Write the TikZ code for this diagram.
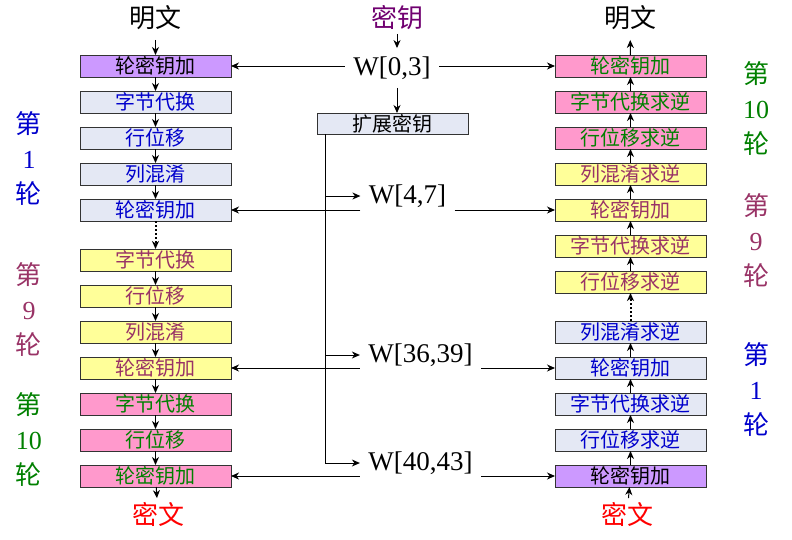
\documentclass[tikz,border=0pt]{standalone}
\usepackage{fontspec}
\setmainfont{Liberation Serif}
\newfontfamily\cjk{Noto Sans CJK SC}
\usetikzlibrary{positioning, arrows.meta}
\definecolor{boxPurple}{RGB}{204,153,255}
\definecolor{boxGray}{RGB}{228,232,244}
\definecolor{boxYellow}{RGB}{255,255,153}
\definecolor{boxPink}{RGB}{255,153,204}
\definecolor{txtBlue}{RGB}{0,0,204}
\definecolor{txtMaroon}{RGB}{153,51,102}
\definecolor{txtGreen}{RGB}{0,128,0}
\definecolor{keyPurple}{RGB}{112,0,112}
\tikzset{
->, % every connector is directed
>={Stealth[length=8pt, width=7pt, inset=2.5pt]}, % bold arrow heads
node distance=14pt, % gap between two stacked steps
blk/.style={draw=black!80, minimum width=151pt, minimum height=22pt, inner sep=0pt, outer sep=0pt, font=\cjk\fontsize{20}{20}\selectfont}, % one step of a round
purplebox/.style={blk, fill=boxPurple, text=black},
graybox/.style={blk, fill=boxGray, text=txtBlue},
yellowbox/.style={blk, fill=boxYellow, text=txtMaroon},
pinkbox/.style={blk, fill=boxPink, text=txtGreen},
headtext/.style={font=\cjk\fontsize{26}{26}\selectfont},
wlabel/.style={font=\fontsize{27}{27}\selectfont, inner sep=8pt}, % key words
roundlbl/.style={align=center, font=\fontsize{26}{35}\selectfont}, % round numbers at the sides
dots/.style={line width=2pt, dash pattern=on 2pt off 2pt}, % the skipped rounds
}

\begin{document}
\begin{tikzpicture}[x=1pt, y=-1pt, line width=1pt]
        \useasboundingbox (0,0) rectangle (792,539);

        % encryption
        \node[headtext] (ptL) at (155.5,18) {明文};
        \node[purplebox] (l1) at (155.5,66) {轮密钥加};
        \node[graybox, below=of l1] (l2) {字节代换};
        \node[graybox, below=of l2] (l3) {行位移};
        \node[graybox, below=of l3] (l4) {列混淆};
        \node[graybox, below=of l4] (l5) {轮密钥加};
        \node[yellowbox, below=28pt of l5] (l6) {字节代换};
        \node[yellowbox, below=of l6] (l7) {行位移};
        \node[yellowbox, below=of l7] (l8) {列混淆};
        \node[yellowbox, below=of l8] (l9) {轮密钥加};
        \node[pinkbox, below=of l9] (l10) {字节代换};
        \node[pinkbox, below=of l10] (l11) {行位移};
        \node[pinkbox, below=of l11] (l12) {轮密钥加};
        \node[headtext, text=red] (ctL) at (158,514) {密文};

        % decryption
        \node[headtext] (ptR) at (630,18) {明文};
        \node[pinkbox] (r1) at (630.5,66) {轮密钥加};
        \node[pinkbox, below=of r1] (r2) {字节代换求逆};
        \node[pinkbox, below=of r2] (r3) {行位移求逆};
        \node[yellowbox, below=of r3] (r4) {列混淆求逆};
        \node[yellowbox, below=of r4] (r5) {轮密钥加};
        \node[yellowbox, below=of r5] (r6) {字节代换求逆};
        \node[yellowbox, below=of r6] (r7) {行位移求逆};
        \node[graybox, below=28pt of r7] (r8) {列混淆求逆};
        \node[graybox, below=of r8] (r9) {轮密钥加};
        \node[graybox, below=of r9] (r10) {字节代换求逆};
        \node[graybox, below=of r10] (r11) {行位移求逆};
        \node[purplebox, below=of r11] (r12) {轮密钥加};
        \node[headtext, text=red] (ctR) at (627,514) {密文};

        % key schedule
        \node[headtext, text=keyPurple] (key) at (397,18) {密钥};
        \node[wlabel] (w03) at (392,68) {W[0,3]};
        \node[blk, fill=boxGray, minimum height=21pt] (ke) at (392.5,123.5) {扩展密钥};
        \coordinate (trunk) at ([xshift=8pt]ke.south west);
        \node[wlabel] (w47) at (407.5,196) {W[4,7]};
        \node[wlabel] (w3639) at (420.5,355) {W[36,39]};
        \node[wlabel] (w4043) at (420.5,463) {W[40,43]};

        \node[roundlbl, text=txtBlue] (rdL1) at (29,158) {{\cjk 第}\\1\\{\cjk 轮}};
        \node[roundlbl, text=txtMaroon] (rdL9) at (29,309) {{\cjk 第}\\9\\{\cjk 轮}};
        \node[roundlbl, text=txtGreen] (rdL10) at (29,439) {{\cjk 第}\\10\\{\cjk 轮}};
        \node[roundlbl, text=txtGreen] (rdR10) at (756,108) {{\cjk 第}\\10\\{\cjk 轮}};
        \node[roundlbl, text=txtMaroon] (rdR9) at (756,240) {{\cjk 第}\\9\\{\cjk 轮}};
        \node[roundlbl, text=txtBlue] (rdR1) at (756,389) {{\cjk 第}\\1\\{\cjk 轮}};

        \draw (ptL) edge[shorten <=6pt] (l1)
        (l1) edge (l2) (l2) edge (l3) (l3) edge (l4) (l4) edge (l5)
        (l5) edge[dots] (l6)
        (l6) edge (l7) (l7) edge (l8) (l8) edge (l9) (l9) edge (l10)
        (l10) edge (l11) (l11) edge (l12) (l12) edge (ctL);

        \draw (ctR) edge (r12)
        (r12) edge (r11) (r11) edge (r10) (r10) edge (r9) (r9) edge (r8)
        (r8) edge[dots] (r7)
        (r7) edge (r6) (r6) edge (r5) (r5) edge (r4) (r4) edge (r3)
        (r3) edge (r2) (r2) edge (r1) (r1) edge[shorten >=6pt] (ptR);

        \draw (key) -- (key |- w03.north);
        \draw (w03.south -| key) -- (ke.north -| key);
        \draw (trunk) |- (w4043.west);
        \draw (trunk |- w47.west) -- (w47.west);
        \draw (trunk |- w3639.west) -- (w3639.west);

        \draw (l1.east -| w03.west) -- (l1.east);
        \draw (r1.west -| w03.east) -- (r1.west);
        \draw (l5.east -| w47.west) -- (l5.east);
        \draw (r5.west -| w47.east) -- (r5.west);
        \draw (l9.east -| w3639.west) -- (l9.east);
        \draw (r9.west -| w3639.east) -- (r9.west);
        \draw (l12.east -| w4043.west) -- (l12.east);
        \draw (r12.west -| w4043.east) -- (r12.west);
      \end{tikzpicture}
\end{document}
